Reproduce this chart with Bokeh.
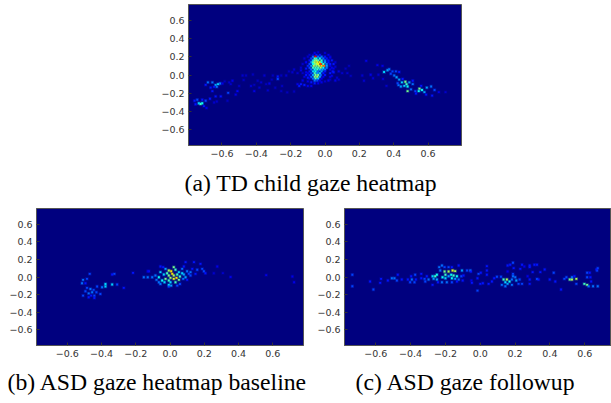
from bokeh.embed import file_html
from bokeh.resources import INLINE
from bokeh.layouts import column, row
from bokeh.models import ColumnDataSource, FixedTicker, LinearColorMapper, Spacer, Title
from bokeh.plotting import figure
from bokeh.transform import transform
import numpy as np

TICKS = [-0.6, -0.4, -0.2, 0.0, 0.2, 0.4, 0.6]
TICK_LABELS = {-0.6: "\u22120.6", -0.4: "\u22120.4", -0.2: "\u22120.2", 0.0: "0.0", 0.2: "0.2", 0.4: "0.4", 0.6: "0.6"}
CAPTION_A = "(a) TD child gaze heatmap"
CAPTION_B = "(b) ASD gaze heatmap baseline"
CAPTION_C = "(c) ASD gaze followup"

# (x, y, intensity 0-1)
a_left = [(-.725,-.316,.5),(-.715,-.308,.45),(-.735,-.308,.4),(-.744,-.27,.25),(-.76,-.282,.2),(-.715,-.27,.2),(-.695,-.282,.25),(-.67,-.26,.2),(-.754,-.32,.2),(-.705,-.34,.2),(-.69,-.36,.15),(-.63,-.29,.12),(-.646,-.30,.12),(-.568,-.282,.1),(-.607,-.233,.2),(-.564,-.195,.25),(-.637,-.233,.2),(-.656,-.176,.2),(-.623,-.10,.4),(-.637,-.108,.35),(-.611,-.093,.3),(-.656,-.081,.3),(-.682,-.081,.3),(-.695,-.108,.2),(-.666,-.138,.2),(-.646,-.13,.2),(-.63,-.13,.3),(-.597,-.093,.15),(-.558,-.081,.12),(-.539,-.062,.15),(-.549,-.10,.12),(-.584,-.07,.1),(-.51,-.176,.18),(-.52,-.214,.15),(-.50,-.12,.1),(-.48,-.005,.12),(-.46,-.005,.1),(-.474,-.055,.1),(-.42,.006,.1),(-.353,-.005,.12),(-.304,-.005,.1),(-.275,-.043,.25),(-.275,-.017,.2),(-.255,-.005,.1),(-.226,-.005,.12),(-.392,-.062,.1),(-.372,-.081,.12),(-.324,-.093,.15),(-.343,-.10,.1),(-.431,-.12,.12),(-.412,-.108,.1),(-.382,-.138,.12),(-.412,-.176,.15),(-.333,-.168,.12),(-.255,-.176,.1)]
a_core = [(-.05,.22,.2),(-.03,.22,.2),(-.07,.22,.12),(-.07,.20,.3),(-.055,.20,.9),(-.04,.20,.3),(-.02,.20,.3),(0,.20,.2),(-.08,.18,.25),(-.06,.18,.5),(-.05,.18,.45),(-.03,.18,.45),(-.01,.18,.3),(.01,.18,.2),(-.09,.16,.2),(-.07,.16,.4),(-.06,.16,.55),(-.05,.16,.6),(-.04,.16,.5),(-.02,.16,.5),(0,.16,.3),(.02,.16,.2),(-.08,.14,.35),(-.07,.14,.5),(-.06,.14,.6),(-.045,.14,.65),(-.03,.14,.7),(-.02,.14,.45),(0,.14,.35),(.02,.14,.2),(-.09,.12,.25),(-.07,.12,.45),(-.06,.12,.55),(-.05,.12,.6),(-.04,.12,.65),(-.025,.12,.85),(-.01,.12,.5),(.01,.12,.3),(.03,.12,.2),(-.08,.10,.35),(-.065,.10,.6),(-.05,.10,.55),(-.035,.10,.6),(-.02,.10,.7),(-.005,.10,.8),(.01,.10,.35),(.03,.10,.15),(-.09,.08,.25),(-.07,.08,.5),(-.055,.08,.5),(-.04,.08,.5),(-.025,.08,.6),(-.01,.08,.45),(.01,.08,.3),(.04,.08,.15),(-.08,.06,.3),(-.06,.06,.45),(-.045,.06,.5),(-.03,.06,.4),(-.015,.06,.35),(0,.06,.3),(-.09,.04,.2),(-.07,.04,.4),(-.055,.04,.45),(-.04,.04,.3),(-.02,.04,.35),(0,.04,.2),(-.1,.02,.15),(-.08,.02,.25),(-.06,.02,.5),(-.045,.02,.35),(-.03,.02,.4),(-.01,.02,.2),(-.09,0,.2),(-.07,0,.35),(-.055,0,.55),(-.04,0,.55),(-.025,0,.3),(0,0,.2),(-.08,-.02,.3),(-.06,-.02,.55),(-.045,-.02,.6),(-.03,-.02,.35),(-.01,-.02,.15),(-.09,-.04,.15),(-.07,-.04,.3),(-.055,-.04,.5),(-.04,-.04,.4),(-.02,-.04,.15),(-.06,-.06,.3),(-.045,-.06,.25),(-.03,-.06,.15)]
a_ring = [(.03,.2,.12),(.04,.16,.2),(.05,.12,.2),(.045,.04,.2),(.03,.02,.2),(.03,-.02,.15),(.02,-.06,.15),(-.11,0,.2),(-.1,-.03,.2),(-.1,-.07,.15),(-.08,-.08,.2),(-.06,-.09,.2),(-.04,-.09,.15),(-.02,-.08,.15),(0,-.07,.12),(-.1,.2,.12),(-.09,.22,.12),(-.13,.12,.12),(-.14,.08,.12),(-.12,.18,.12),(-.11,.14,.18),(-.1,.1,.22),(-.11,.07,.2),(.06,.14,.12),(.02,.22,.15),(0,.24,.12),(-.04,.25,.12),(.03,.19,.15),(-.06,.24,.15),(.05,.07,.15)]
a_halo = [(-.18,.06,.12),(-.16,.02,.12),(-.21,.04,.1),(-.19,.03,.12),(-.14,.05,.15),(-.13,.02,.12),(-.12,-.02,.15),(-.11,.03,.15),(-.13,-.06,.15),(-.14,-.1,.2),(-.12,-.11,.2),(-.15,-.12,.2),(-.1,-.12,.15),(-.16,-.1,.15),(-.08,-.12,.15),(-.18,-.18,.1),(-.22,-.19,.1),(-.25,-.12,.1),(-.29,-.14,.1),(-.31,-.05,.1),(.03,.06,.15),(.05,.03,.2),(.04,-.01,.15),(.06,.09,.12),(.07,-.03,.12),(.08,.04,.15),(.1,.02,.12),(.12,.07,.1),(.14,.1,.1),(.13,.02,.12),(.15,-.01,.1),(.08,-.05,.12),(.06,-.06,.15),(.03,-.05,.1)]
a_right = [(.24,.154,.15),(.305,.108,.15),(.335,.10,.15),(.266,.002,.15),(.217,-.005,.12),(.227,-.062,.12),(.28,-.036,.12),(.311,.002,.12),(.338,-.043,.12),(.358,-.119,.12),(.344,.033,.4),(.364,.052,.35),(.374,.063,.3),(.393,.04,.25),(.383,.014,.25),(.413,.04,.25),(.432,.033,.2),(.403,-.005,.3),(.417,-.024,.35),(.432,-.05,.35),(.448,-.081,.4),(.468,-.073,.55),(.475,-.10,.5),(.481,-.126,.45),(.462,-.119,.4),(.442,-.126,.35),(.428,-.111,.3),(.491,-.081,.35),(.511,-.10,.3),(.501,-.157,.3),(.481,-.176,.55),(.526,-.176,.25),(.55,-.149,.55),(.546,-.176,.45),(.565,-.164,.45),(.579,-.187,.35),(.53,-.202,.2),(.593,-.138,.35),(.618,-.126,.3),(.638,-.164,.25),(.624,-.225,.2),(.663,-.187,.15),(.702,-.187,.12),(.589,-.214,.2),(.452,-.043,.2),(.423,-.089,.25),(.511,-.062,.2),(.56,-.119,.2)]

b_left = [(-.469,.036,.25),(-.485,-.021,.25),(-.508,-.033,.3),(-.514,-.071,.3),(-.494,-.071,.2),(-.325,.036,.25),(-.338,.028,.2),(-.216,.047,.2),(-.426,-.109,.25),(-.397,-.117,.3),(-.377,-.079,.4),(-.377,-.109,.4),(-.338,-.086,.4),(-.309,-.086,.25),(-.27,-.124,.2),(-.485,-.124,.25),(-.465,-.136,.3),(-.446,-.147,.25),(-.494,-.163,.25),(-.475,-.186,.3),(-.455,-.174,.3),(-.43,-.174,.25),(-.407,-.193,.25),(-.508,-.212,.25),(-.442,-.212,.25),(-.461,-.212,.2),(-.442,-.239,.2),(-.475,-.231,.2),(-.153,-.002,.3),(-.124,.066,.2)]
b_core = [(-.13,.066,.15),(-.13,-.002,.3),(-.104,-.002,.3),(-.085,.017,.3),(-.065,-.002,.45),(-.056,.055,.4),(-.04,.112,.2),(-.056,.12,.2),(-.026,.093,.35),(-.007,.074,.6),(.007,.066,.7),(.022,.112,.55),(.032,.082,.5),(.013,.036,.7),(-.007,.017,.55),(.003,-.01,.6),(-.036,.028,.4),(-.026,-.021,.55),(-.046,-.04,.45),(-.056,-.079,.3),(-.032,-.06,.4),(-.007,-.04,.5),(-.007,-.09,.4),(.007,-.098,.35),(.022,-.021,.65),(.038,-.01,.7),(.052,-.033,.55),(.032,-.06,.5),(.058,.005,.5),(.071,.043,.4),(.052,.055,.4),(.071,.093,.3),(.091,.169,.2),(.081,.12,.2),(.1,.066,.3),(.12,.055,.3),(.13,.093,.2),(.14,.169,.2),(.178,.15,.2),(.159,.082,.25),(.188,.093,.25),(.198,.066,.25),(.207,.043,.2),(.12,.017,.25),(.091,-.002,.35),(.077,-.021,.3),(.1,-.033,.2),(.058,-.079,.25),(-.007,-.11,.25),(-.017,.043,.5),(.022,.017,.6),(.042,.028,.5),(.003,-.06,.4),(-.065,-.06,.3),(-.079,-.033,.3),(.042,-.098,.25),(.081,.028,.35),(.11,.036,.25),(.149,.036,.2)]
b_sparse = [(.276,.12,.15),(.309,.044,.12),(.354,0,.15),(.562,.021,.15),(.715,.005,.15),(.725,-.06,.15),(.256,.043,.12)]

c_left = [(-.735,.025,.25),(-.735,-.105,.25),(-.633,-.052,.2),(-.614,-.143,.25),(-.57,-.021,.2),(-.575,-.067,.2),(-.531,-.04,.2),(-.508,-.014,.3),(-.493,-.014,.3),(-.474,.025,.2),(-.479,-.04,.25),(-.451,-.029,.2),(-.416,-.029,.2),(-.397,.009,.2),(-.374,.025,.25),(-.393,-.029,.3),(-.403,-.059,.25),(-.378,-.059,.25),(-.37,-.029,.2),(-.339,.036,.2),(-.339,-.014,.2),(-.32,-.021,.25),(-.307,.009,.2),(-.297,-.029,.3),(-.316,-.052,.25),(-.274,-.09,.2),(-.274,.009,.4),(-.259,.009,.5),(-.249,.025,.45),(-.268,-.021,.35),(-.249,-.029,.35),(-.236,.112,.3),(-.22,.131,.3),(-.205,.112,.25),(-.23,.074,.3),(-.205,.063,.55),(-.182,.063,.6),(-.159,.074,.65),(-.144,.067,.6),(-.124,.131,.2),(-.2,.025,.5),(-.217,-.002,.45),(-.2,-.014,.4),(-.182,.009,.35),(-.167,.025,.45),(-.153,.017,.5),(-.134,.009,.45),(-.163,-.014,.45),(-.144,-.021,.35),(-.124,-.029,.3),(-.109,.009,.25),(-.105,.074,.35),(-.076,.074,.25),(-.057,.074,.3),(-.096,.017,.2),(-.192,-.059,.3),(-.22,-.059,.3),(-.243,-.059,.2),(-.163,-.059,.25),(-.134,-.052,.2),(-.101,-.04,.2),(-.051,-.04,.15),(-.182,.112,.25),(-.163,.112,.2)]
c_right = [(-.054,.063,.2),(-.01,.036,.25),(-.016,-.014,.2),(.003,.048,.2),(.038,.124,.2),(.038,.074,.2),(.038,.025,.2),(-.048,-.067,.2),(0,-.078,.2),(.015,-.071,.2),(-.016,-.155,.25),(.048,-.078,.2),(.067,-.052,.2),(.08,-.014,.2),(.096,.002,.25),(.119,.002,.25),(.134,-.029,.5),(.153,-.029,.6),(.168,-.052,.45),(.144,-.059,.4),(.157,-.078,.35),(.124,-.09,.3),(.144,-.105,.3),(.182,-.09,.3),(.188,.009,.3),(.201,-.002,.3),(.188,.036,.25),(.207,-.04,.35),(.226,-.029,.25),(.182,-.029,.3),(.22,-.078,.25),(.24,-.078,.25),(.157,.131,.2),(.172,.139,.2),(.188,.162,.25),(.192,.101,.2),(.157,.063,.15),(.23,.093,.2),(.24,.139,.2),(.253,.12,.15),(.284,.131,.2),(.284,.112,.2),(.311,.139,.2),(.326,.139,.2),(.301,.055,.2),(.345,.055,.2),(.37,.086,.2),(.272,.009,.15),(.284,-.029,.2),(.284,-.078,.2),(.326,-.022,.25),(.335,-.029,.2),(.399,-.029,.2),(.422,.048,.25),(.431,-.052,.2),(.464,-.143,.2),(.483,-.021,.25),(.495,-.002,.25),(.514,-.029,.55),(.527,-.029,.6),(.552,-.021,.6),(.541,.009,.2),(.527,-.002,.3),(.552,-.078,.25),(.614,.048,.25),(.629,.048,.2),(.614,-.002,.25),(.633,-.002,.2),(.637,-.052,.2),(.598,-.078,.5),(.614,-.09,.55),(.623,-.105,.3),(.648,-.105,.3),(.675,-.105,.3),(.671,.074,.25),(.675,.101,.25),(.668,.086,.2)]


def jet(t):
    r = np.clip(1.5 - np.abs(4 * t - 3), 0, 1)
    g = np.clip(1.5 - np.abs(4 * t - 2), 0, 1)
    b = np.clip(1.5 - np.abs(4 * t - 1), 0, 1)
    return "#%02x%02x%02x" % (int(r * 255), int(g * 255), int(b * 255))


mapper = LinearColorMapper(palette=[jet((i / 255) ** 1.2) for i in range(256)], low=0, high=1)


def panel(cells, caption, caption_offset, standoff, width, height, borders, x_range, y_range):
    left, right, top, bottom = borders
    p = figure(width=width, height=height, x_range=x_range, y_range=y_range,
               output_backend="svg", toolbar_location=None, min_border_left=left,
               min_border_right=right, min_border_top=top, min_border_bottom=bottom,
               background_fill_color="#00007f", border_fill_color="white")
    p.grid.visible = False
    p.outline_line_color = "#555555"
    for ax in (p.xaxis[0], p.yaxis[0]):
        ax.ticker = FixedTicker(ticks=TICKS)
        ax.major_label_overrides = TICK_LABELS
        ax.major_label_text_font = "DejaVu Sans"
        ax.major_label_text_font_size = "9.5px"
        ax.major_label_text_color = "#333333"
        ax.major_tick_in = 3
        ax.major_tick_out = 0
        ax.minor_tick_line_color = None
        ax.axis_line_color = "#555555"
        ax.major_tick_line_color = "#333333"
        ax.major_label_standoff = 4
    src = ColumnDataSource(dict(x=[c[0] for c in cells], y=[c[1] for c in cells], v=[c[2] for c in cells]))
    color = transform("v", mapper)
    p.rect("x", "y", width=3.4, height=3.4, width_units="screen", height_units="screen",
           source=src, fill_color=color, fill_alpha=0.25, line_color=None)
    p.rect("x", "y", width=1.9, height=1.9, width_units="screen", height_units="screen",
           source=src, fill_color=color, line_color=None)
    p.add_layout(Title(text=caption, align="left", offset=caption_offset, standoff=standoff,
                       text_font="Liberation Serif", text_font_size="23.7px",
                       text_font_style="normal", text_color="black"), "below")
    return p


fa = panel(a_left + a_core + a_ring + a_halo + a_right, CAPTION_A, -4, 16, 340, 204, (48, 19, 4, 59),
           (-0.795, 0.795), (-0.77, 0.77))
fb = panel(b_left + b_core + b_sparse, CAPTION_B, -29, 14, 313, 199, (36, 10, 4, 58),
           (-0.78, 0.78), (-0.78, 0.78))
fc = panel(c_left + c_right, CAPTION_C, 11, 14, 298, 199, (31, 0, 4, 58),
           (-0.78, 0.754), (-0.78, 0.78))

page = column(row(Spacer(width=140, height=204), fa), row(fb, fc), spacing=0)
open("out.html", "w").write(file_html(page, INLINE))
